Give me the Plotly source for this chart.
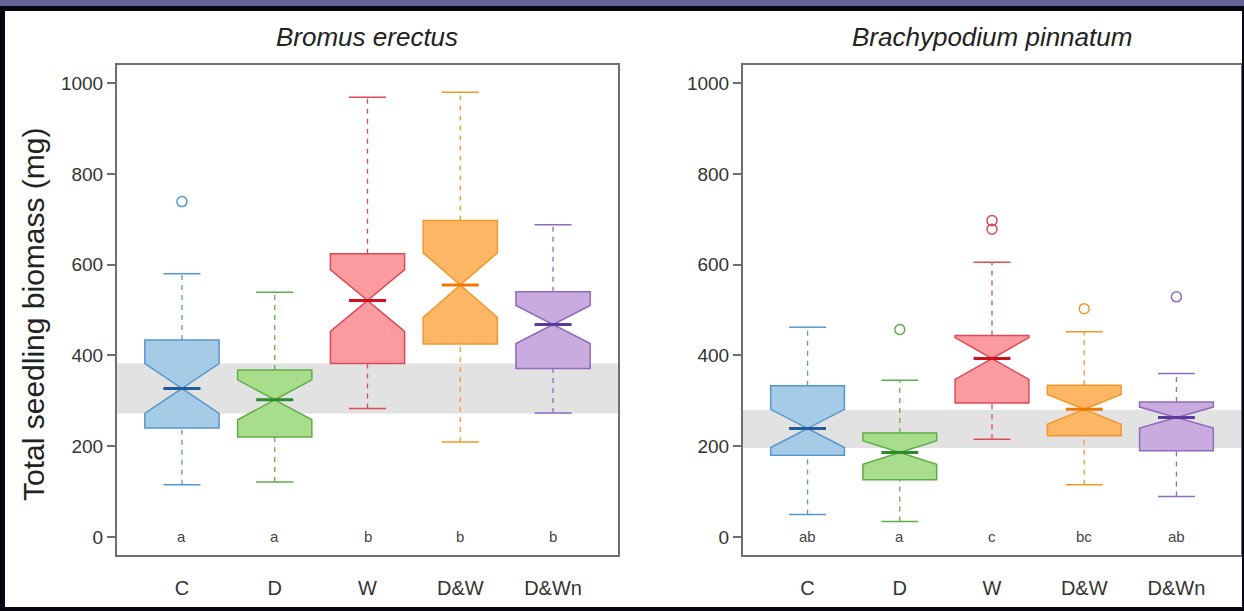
import plotly.graph_objects as go

W, H = 1244, 611

categories = ["C", "D", "W", "D&W", "D&Wn"]
titles = ["Bromus erectus", "Brachypodium pinnatum"]

# Panel 1: Bromus erectus
be_lower = [115, 121, 283, 209, 273]
be_q1 = [240, 220, 382, 425, 371]
be_median = [327, 302, 521, 555, 468]
be_q3 = [434, 368, 624, 697, 540]
be_upper = [580, 539, 969, 980, 688]
be_notch = [55, 44, 68, 71, 42]
be_outliers = [[739], [], [], [], []]
be_letters = ["a", "a", "b", "b", "b"]
be_band = [272, 382]

# Panel 2: Brachypodium pinnatum
bp_lower = [49, 34, 215, 115, 89]
bp_q1 = [180, 126, 295, 223, 190]
bp_median = [239, 186, 393, 281, 263]
bp_q3 = [333, 229, 444, 334, 297]
bp_upper = [462, 345, 605, 452, 360]
bp_notch = [42, 26, 46, 33, 23]
bp_outliers = [[], [457], [678, 697], [503], [529]]
bp_letters = ["ab", "a", "c", "bc", "ab"]
bp_band = [196, 280]

y_ticks = [0, 200, 400, 600, 800, 1000]

fills = ["#a6cbe6", "#a8dd8c", "#fb9b9f", "#fdb663", "#c9abdf"]
lines = ["#5797cc", "#5eae48", "#dc4a57", "#f0982a", "#8e6bbd"]
medians = ["#1e5c9a", "#2b8a2b", "#d0101e", "#f07800", "#5b3a9c"]

BOXW = 0.8
FONT = "Liberation Sans, Arial, sans-serif"

fig = go.Figure()

panels = [
    (be_lower, be_q1, be_median, be_q3, be_upper, be_notch, be_outliers, be_letters, be_band, "x", "y"),
    (bp_lower, bp_q1, bp_median, bp_q3, bp_upper, bp_notch, bp_outliers, bp_letters, bp_band, "x2", "y2"),
]

shapes = []
annotations = []

for (lo, q1, med, q3, up, nsp, outs, letters, band, xa, ya) in panels:
    xdom = xa + " domain"
    shapes.append(dict(type="rect", xref=xdom, yref=ya, x0=0, x1=1, y0=band[0], y1=band[1],
                       fillcolor="#e2e2e2", line=dict(width=0), layer="below"))
    for i, cat in enumerate(categories):
        pos = i + 1
        for a, b in ((lo[i], q1[i]), (q3[i], up[i])):
            fig.add_trace(go.Scatter(x=[pos, pos], y=[a, b], mode="lines", xaxis=xa, yaxis=ya,
                                     line=dict(color=lines[i], width=1.3, dash="5px,5px"),
                                     showlegend=False, hoverinfo="skip"))
        for v in (lo[i], up[i]):
            fig.add_trace(go.Scatter(x=[pos - BOXW / 4, pos + BOXW / 4], y=[v, v], mode="lines",
                                     xaxis=xa, yaxis=ya, line=dict(color=lines[i], width=1.5),
                                     showlegend=False, hoverinfo="skip"))
        fig.add_trace(go.Box(x=[pos], q1=[q1[i]], median=[med[i]], q3=[q3[i]],
                             lowerfence=[q1[i]], upperfence=[q3[i]], notchspan=[nsp[i]],
                             notched=True, notchwidth=0.5, width=BOXW, whiskerwidth=0,
                             fillcolor=fills[i], line=dict(color=lines[i], width=1.5),
                             xaxis=xa, yaxis=ya, showlegend=False, boxpoints=False))
        fig.add_trace(go.Scatter(x=[pos - BOXW / 4, pos + BOXW / 4], y=[med[i], med[i]], mode="lines",
                                 xaxis=xa, yaxis=ya, line=dict(color=medians[i], width=3),
                                 showlegend=False, hoverinfo="skip"))
        if outs[i]:
            fig.add_trace(go.Scatter(x=[pos] * len(outs[i]), y=outs[i], mode="markers",
                                     xaxis=xa, yaxis=ya,
                                     marker=dict(symbol="circle-open", size=10, color=lines[i],
                                                 line=dict(width=1.5, color=lines[i])),
                                     showlegend=False, hoverinfo="skip"))
        annotations.append(dict(x=pos, y=0, xref=xa, yref=ya, text=letters[i], showarrow=False,
                                xanchor="center", yanchor="middle",
                                font=dict(family=FONT, size=15, color="#444444")))

axis_line = "#6e6e6e"
xdoms = [[117 / W, 618 / W], [743 / W, 1241 / W]]
ydom = [1 - 555 / H, 1 - 65 / H]

common_x = dict(range=[0.3, 5.7], tickvals=[1, 2, 3, 4, 5], ticktext=categories,
                showline=True, linecolor=axis_line, linewidth=2, mirror=True,
                ticks="outside", ticklen=14, tickcolor="rgba(0,0,0,0)",
                tickfont=dict(family=FONT, size=20, color="#333333"),
                showgrid=False, zeroline=False, fixedrange=True)
common_y = dict(range=[-40, 1040], tickvals=y_ticks,
                showline=True, linecolor=axis_line, linewidth=2, mirror=True,
                ticks="outside", ticklen=8, tickwidth=1.5, tickcolor=axis_line,
                tickfont=dict(family=FONT, size=19, color="#333333"),
                showgrid=False, zeroline=False, fixedrange=True)

layout = dict(
    width=W, height=H, autosize=False,
    margin=dict(l=0, r=0, t=0, b=0),
    paper_bgcolor="white", plot_bgcolor="white",
    xaxis=dict(domain=xdoms[0], anchor="y", **common_x),
    yaxis=dict(domain=ydom, anchor="x", **common_y),
    xaxis2=dict(domain=xdoms[1], anchor="y2", **common_x),
    yaxis2=dict(domain=ydom, anchor="x2", **common_y),
    boxmode="overlay",
)

for k, t in enumerate(titles):
    annotations.append(dict(x=(xdoms[k][0] + xdoms[k][1]) / 2, y=1 - 37 / H, xref="paper", yref="paper",
                            text="<i>" + t + "</i>", showarrow=False, xanchor="center", yanchor="middle",
                            font=dict(family=FONT, size=26, color="#222222")))
annotations.append(dict(x=33 / W, y=1 - 314 / H, xref="paper", yref="paper",
                        text="Total seedling biomass (mg)", textangle=-90, showarrow=False,
                        xanchor="center", yanchor="middle",
                        font=dict(family=FONT, size=30, color="#222222")))

shapes += [
    dict(type="rect", xref="paper", yref="paper", x0=0, x1=1, y0=1 - 6 / H, y1=1,
         fillcolor="#676399", line=dict(width=0), layer="above"),
    dict(type="rect", xref="paper", yref="paper", x0=0, x1=1, y0=1 - 11 / H, y1=1 - 6 / H,
         fillcolor="#05050f", line=dict(width=0), layer="above"),
    dict(type="rect", xref="paper", yref="paper", x0=0, x1=5 / W, y0=0, y1=1 - 6 / H,
         fillcolor="#05050f", line=dict(width=0), layer="above"),
    dict(type="rect", xref="paper", yref="paper", x0=0, x1=1, y0=0, y1=4 / H,
         fillcolor="#05050f", line=dict(width=0), layer="above"),
    dict(type="rect", xref="paper", yref="paper", x0=1242 / W, x1=1, y0=0, y1=1 - 6 / H,
         fillcolor="#05050f", line=dict(width=0), layer="above"),
]

layout["shapes"] = shapes
layout["annotations"] = annotations
fig.update_layout(**layout)

fig.write_html("out.html", config={"displayModeBar": False},
               post_script="document.body.style.margin='0';document.body.style.padding='0';"
                           "document.documentElement.style.overflow='hidden';")
